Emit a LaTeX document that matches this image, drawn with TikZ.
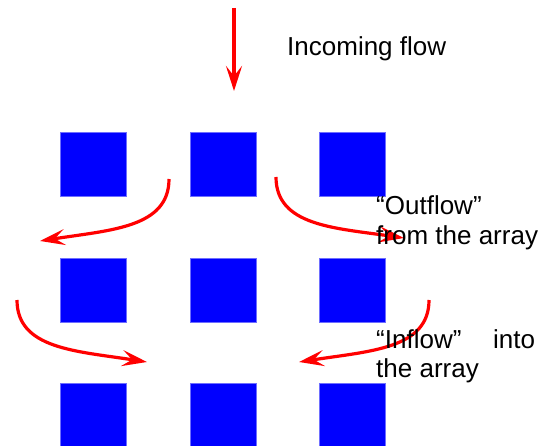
\documentclass[tikz,border=0pt]{standalone}
\usepackage{fontspec}
\setmainfont{Liberation Sans}
\usetikzlibrary{arrows.meta}
\begin{document}
\begin{tikzpicture}[x=1pt,y=-1pt,
  cell/.style={fill={rgb,255:red,0;green,0;blue,255}, draw={rgb,255:red,110;green,110;blue,255}, line width=0.4pt, minimum width=66pt, minimum height=64pt, inner sep=0pt},
  flow/.style={draw={rgb,255:red,255;green,0;blue,0}, line width=3.2pt, -{Stealth[length=25pt,width=16pt,inset=10pt]}},
  lbl/.style={font=\fontsize{26pt}{30pt}\selectfont, inner sep=0pt, anchor=base west}]
\useasboundingbox (0,0) rectangle (554,446);
% squares
\node[cell] (s11) at (93.5,164) {};
\node[cell] (s12) at (223,164) {};
\node[cell] (s13) at (352,164) {};
\node[cell] (s21) at (93.5,290) {};
\node[cell] (s22) at (223,290) {};
\node[cell] (s23) at (352,290) {};
\node[cell] (s31) at (93.5,415) {};
\node[cell] (s32) at (223,415) {};
\node[cell] (s33) at (352,415) {};
% arrow end points
\coordinate (inA) at (234,8);
\coordinate (inB) at (234,91);
\coordinate (oLA) at (169,179);
\coordinate (oLB) at (40,241);
\coordinate (oRA) at (276,177);
\coordinate (oRB) at (404,238);
\coordinate (iLA) at (17,300);
\coordinate (iLB) at (147,362);
\coordinate (iRA) at (429,300);
\coordinate (iRB) at (299,362);
% arrows
\draw[flow] (inA) -- (inB);
\draw[flow] (oLA) .. controls (169,228) and (110,230) .. (oLB);
\draw[flow] (oRA) .. controls (276,226) and (335,228) .. (oRB);
\draw[flow] (iLA) .. controls (17,349) and (76,351) .. (iLB);
\draw[flow] (iRA) .. controls (429,349) and (370,351) .. (iRB);
% labels
\node[lbl] (t1) at (287,56) {Incoming flow};
\node[lbl] (t2) at (376,215) {“Outflow”};
\node[lbl] (t3) at (376,245) {from the array};
\node[lbl] (t4) at (376,348) {“Inflow”};
\node[lbl] (t5) at (493,348) {into};
\node[lbl] (t6) at (376,377) {the array};
\end{tikzpicture}
\end{document}
